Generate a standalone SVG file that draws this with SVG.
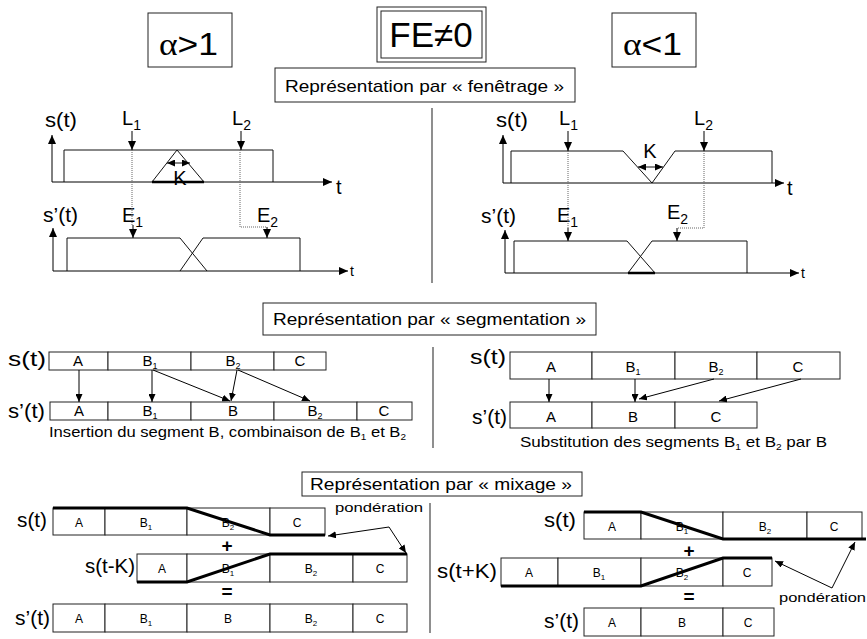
<svg xmlns="http://www.w3.org/2000/svg" width="867" height="639" viewBox="0 0 867 639">
<defs>
<marker id="ah" markerUnits="userSpaceOnUse" markerWidth="9" markerHeight="8" refX="9" refY="4" orient="auto"><path d="M0,0 L9,4 L0,8 z" fill="#000"/></marker>
<marker id="ahs" markerUnits="userSpaceOnUse" markerWidth="8" markerHeight="7" refX="8" refY="3.5" orient="auto"><path d="M0,0 L8,3.5 L0,7 z" fill="#000"/></marker>
<marker id="ahb" markerUnits="userSpaceOnUse" markerWidth="8" markerHeight="7" refX="0" refY="3.5" orient="auto"><path d="M8,0 L0,3.5 L8,7 z" fill="#000"/></marker>
</defs>
<style>
text{font-family:"Liberation Sans",Arial,sans-serif;fill:#000}
.box{fill:#fff;stroke:#222;stroke-width:1}
.ln{fill:none;stroke:#111;stroke-width:1}
.thk{fill:none;stroke:#000;stroke-width:3}
.dot{fill:none;stroke:#666;stroke-width:1;stroke-dasharray:1,1}
.div{stroke:#444;stroke-width:1.2}
.arr{fill:none;stroke:#000;stroke-width:1;marker-end:url(#ah)}
.arrs{fill:none;stroke:#000;stroke-width:1;marker-end:url(#ahs)}
.big{font-size:32px}
.alpha{font-family:"Liberation Serif","Times New Roman",serif}
.hdr{font-size:17px}
.lbl{font-size:21px}
.sl{font-size:15px}
.ml{font-size:12px}
.cap{font-size:15px}
.pond{font-size:13px}
</style>
<rect width="867" height="639" fill="#fff"/>

<g id="header-alpha-gt1"><rect class="box" x="148" y="13" width="84" height="54"/><text class="big" x="159" y="55" textLength="59" lengthAdjust="spacingAndGlyphs"><tspan class="alpha">α</tspan>&gt;1</text></g>
<g id="header-fe"><rect class="box" x="377" y="7" width="109" height="55"/><rect class="box" x="381" y="11" width="101" height="47"/><text x="431" y="47" font-size="35" text-anchor="middle">FE≠0</text></g>
<g id="header-alpha-lt1"><rect class="box" x="612" y="13" width="84" height="54"/><text class="big" x="623" y="55" textLength="59" lengthAdjust="spacingAndGlyphs"><tspan class="alpha">α</tspan>&lt;1</text></g>
<g id="title-fenetrage"><rect class="box" x="275" y="68" width="300" height="34"/><text class="hdr" x="285" y="92" textLength="279" lengthAdjust="spacingAndGlyphs">Représentation par « fenêtrage »</text></g>
<g id="title-segmentation"><rect class="box" x="263" y="303" width="333" height="32"/><text class="hdr" x="273" y="325" textLength="313" lengthAdjust="spacingAndGlyphs">Représentation par « segmentation »</text></g>
<g id="title-mixage"><rect class="box" x="302" y="472" width="280" height="24"/><text class="hdr" x="310" y="490" textLength="262" lengthAdjust="spacingAndGlyphs">Représentation par « mixage »</text></g>

<g id="dividers">
<line class="div" x1="432" y1="108" x2="432" y2="283"/>
<line class="div" x1="433" y1="347" x2="433" y2="448"/>
<line class="div" x1="430" y1="503" x2="430" y2="633"/>
</g>

<!-- Windowing left -->
<g id="win-left">
<text class="lbl" x="45" y="127" textLength="32" lengthAdjust="spacingAndGlyphs">s(t)</text>
<polyline class="ln" points="64,182 64,150 177,150 204,182"/>
<polyline class="ln" points="152,182 177,150 273,150 273,182"/>
<line x1="152" y1="182" x2="204" y2="182" stroke="#000" stroke-width="2.5"/>
<text x="180" y="185" font-size="20" text-anchor="middle">K</text>
<text x="122" y="125" font-size="20">L<tspan font-size="14" dy="5">1</tspan></text>
<text x="232" y="125" font-size="20">L<tspan font-size="14" dy="5">2</tspan></text>
<text class="lbl" x="43" y="222" textLength="35" lengthAdjust="spacingAndGlyphs">s’(t)</text>
<text x="122" y="222" font-size="20">E<tspan font-size="14" dy="5">1</tspan></text>
<text x="257" y="222" font-size="20">E<tspan font-size="14" dy="5">2</tspan></text>
<text x="336" y="194" font-size="20">t</text>
<polyline class="ln" points="67,271 67,238 180,238 207,271"/>
<polyline class="ln" points="180,271 203,238 300,238 300,271"/>
<text x="350" y="276" font-size="14">t</text>
</g>
<g id="win-left-connectors">
<line class="arr" x1="52" y1="182" x2="52" y2="135"/>
<line class="arr" x1="52" y1="182" x2="332" y2="182"/>
<line class="ln" x1="167" y1="163" x2="190" y2="163" marker-start="url(#ahb)" marker-end="url(#ahs)"/>
<line class="arr" x1="132" y1="131" x2="132" y2="150"/>
<line class="arr" x1="241" y1="131" x2="241" y2="150"/>
<line class="dot" x1="132" y1="150" x2="132" y2="226"/>
<polyline class="dot" points="240,150 240,227 267,227"/>
<line class="arr" x1="133" y1="225" x2="133" y2="238"/>
<line class="arr" x1="267" y1="227" x2="267" y2="238"/>
<line class="arr" x1="53" y1="271" x2="53" y2="228"/>
<line class="arr" x1="53" y1="271" x2="348" y2="271"/>
</g>

<!-- Windowing right -->
<g id="win-right">
<text class="lbl" x="496" y="127" textLength="32" lengthAdjust="spacingAndGlyphs">s(t)</text>
<polyline class="ln" points="511,183 511,151 623,151 652,183 675,151 772,151 772,183"/>
<text x="650" y="158" font-size="20" text-anchor="middle">K</text>
<text x="559" y="125" font-size="20">L<tspan font-size="14" dy="5">1</tspan></text>
<text x="694" y="125" font-size="20">L<tspan font-size="14" dy="5">2</tspan></text>
<text class="lbl" x="481" y="223" textLength="35" lengthAdjust="spacingAndGlyphs">s’(t)</text>
<text x="557" y="222" font-size="20">E<tspan font-size="14" dy="5">1</tspan></text>
<text x="667" y="219" font-size="20">E<tspan font-size="14" dy="5">2</tspan></text>
<text x="787" y="195" font-size="20">t</text>
<polyline class="ln" points="514,273 514,241 627,241 655,273"/>
<polyline class="ln" points="628,273 652,241 747,241 747,273"/>
<line x1="628" y1="273" x2="655" y2="273" stroke="#000" stroke-width="2.5"/>
<text x="801" y="278" font-size="14">t</text>
</g>
<g id="win-right-connectors">
<line class="arr" x1="503" y1="183" x2="503" y2="135"/>
<line class="arr" x1="503" y1="183" x2="784" y2="183"/>
<line class="ln" x1="638" y1="167" x2="663" y2="167" marker-start="url(#ahb)" marker-end="url(#ahs)"/>
<line class="arr" x1="568" y1="131" x2="568" y2="151"/>
<line class="arr" x1="704" y1="131" x2="704" y2="151"/>
<line class="dot" x1="568" y1="151" x2="568" y2="229"/>
<polyline class="dot" points="704,151 704,228 677,228"/>
<line class="arr" x1="568" y1="228" x2="568" y2="241"/>
<line class="arr" x1="677" y1="228" x2="677" y2="241"/>
<line class="arr" x1="505" y1="273" x2="505" y2="230"/>
<line class="arr" x1="505" y1="273" x2="799" y2="273"/>
</g>

<!-- Segmentation left -->
<g id="seg-left-st">
<text class="lbl" x="8" y="366" textLength="38" lengthAdjust="spacingAndGlyphs">s(t)</text>
<rect class="box" x="49" y="352" width="59" height="18"/>
<rect class="box" x="108" y="352" width="83" height="18"/>
<rect class="box" x="191" y="352" width="83" height="18"/>
<rect class="box" x="274" y="352" width="52" height="18"/>
<text class="sl" x="78" y="366" text-anchor="middle">A</text>
<text class="sl" x="150" y="366" text-anchor="middle">B<tspan font-size="9" dy="3">1</tspan></text>
<text class="sl" x="233" y="366" text-anchor="middle">B<tspan font-size="9" dy="3">2</tspan></text>
<text class="sl" x="300" y="366" text-anchor="middle">C</text>
</g>
<g id="seg-left-sp">
<text class="lbl" x="8" y="418" textLength="37" lengthAdjust="spacingAndGlyphs">s’(t)</text>
<rect class="box" x="50" y="402" width="58" height="18"/>
<rect class="box" x="108" y="402" width="83" height="18"/>
<rect class="box" x="191" y="402" width="83" height="18"/>
<rect class="box" x="274" y="402" width="83" height="18"/>
<rect class="box" x="357" y="402" width="55" height="18"/>
<text class="sl" x="79" y="416" text-anchor="middle">A</text>
<text class="sl" x="150" y="416" text-anchor="middle">B<tspan font-size="9" dy="3">1</tspan></text>
<text class="sl" x="233" y="416" text-anchor="middle">B</text>
<text class="sl" x="315" y="416" text-anchor="middle">B<tspan font-size="9" dy="3">2</tspan></text>
<text class="sl" x="384" y="416" text-anchor="middle">C</text>
<text class="cap" x="49" y="437" textLength="357" lengthAdjust="spacingAndGlyphs">Insertion du segment B, combinaison de B<tspan font-size="9" dy="3">1</tspan><tspan dy="-3"> et B</tspan><tspan font-size="9" dy="3">2</tspan></text>
</g>
<g id="seg-left-connectors">
<line class="arrs" x1="79" y1="370" x2="79" y2="402"/>
<line class="arrs" x1="152" y1="370" x2="152" y2="402"/>
<line class="arrs" x1="153" y1="370" x2="230" y2="401"/>
<line class="arrs" x1="237" y1="370" x2="231" y2="401"/>
<line class="arrs" x1="238" y1="370" x2="310" y2="401"/>
</g>

<!-- Segmentation right -->
<g id="seg-right-st">
<text class="lbl" x="470" y="364" textLength="36" lengthAdjust="spacingAndGlyphs">s(t)</text>
<rect class="box" x="510" y="352" width="82" height="27"/>
<rect class="box" x="592" y="352" width="83" height="27"/>
<rect class="box" x="675" y="352" width="82" height="27"/>
<rect class="box" x="757" y="352" width="83" height="27"/>
<text class="sl" x="551" y="372" text-anchor="middle">A</text>
<text class="sl" x="633" y="372" text-anchor="middle">B<tspan font-size="9" dy="3">1</tspan></text>
<text class="sl" x="716" y="372" text-anchor="middle">B<tspan font-size="9" dy="3">2</tspan></text>
<text class="sl" x="798" y="372" text-anchor="middle">C</text>
</g>
<g id="seg-right-sp">
<text class="lbl" x="472" y="424" textLength="35" lengthAdjust="spacingAndGlyphs">s’(t)</text>
<rect class="box" x="510" y="402" width="82" height="26"/>
<rect class="box" x="592" y="402" width="83" height="26"/>
<rect class="box" x="675" y="402" width="82" height="26"/>
<text class="sl" x="551" y="422" text-anchor="middle">A</text>
<text class="sl" x="633" y="422" text-anchor="middle">B</text>
<text class="sl" x="716" y="422" text-anchor="middle">C</text>
<text class="cap" x="520" y="447" textLength="307" lengthAdjust="spacingAndGlyphs">Substitution des segments B<tspan font-size="9" dy="3">1</tspan><tspan dy="-3"> et B</tspan><tspan font-size="9" dy="3">2</tspan><tspan dy="-3"> par B</tspan></text>
</g>
<g id="seg-right-connectors">
<line class="arrs" x1="549" y1="379" x2="549" y2="402"/>
<line class="arrs" x1="635" y1="379" x2="635" y2="402"/>
<line class="arrs" x1="714" y1="379" x2="639" y2="399"/>
<line class="arrs" x1="801" y1="379" x2="719" y2="401"/>
</g>

<!-- Mixage left -->
<g id="mix-left-st">
<text class="lbl" x="17" y="527" textLength="30" lengthAdjust="spacingAndGlyphs">s(t)</text>
<rect class="box" x="53" y="508" width="52" height="27"/>
<rect class="box" x="105" y="508" width="82" height="27"/>
<rect class="box" x="187" y="508" width="83" height="27"/>
<rect class="box" x="270" y="508" width="55" height="27"/>
<text class="ml" x="79" y="527" text-anchor="middle">A</text>
<text class="ml" x="146" y="527" text-anchor="middle">B<tspan font-size="8" dy="3">1</tspan></text>
<text class="ml" x="228" y="527" text-anchor="middle">B<tspan font-size="8" dy="3">2</tspan></text>
<text class="ml" x="297" y="527" text-anchor="middle">C</text>
<polyline class="thk" points="53,508 187,508 270,535 325,535"/>
</g>
<text x="227" y="552" font-size="19" font-weight="bold" text-anchor="middle">+</text>
<g id="mix-left-stk">
<text class="lbl" x="85" y="573" textLength="50" lengthAdjust="spacingAndGlyphs">s(t-K)</text>
<rect class="box" x="137" y="554" width="50" height="28"/>
<rect class="box" x="187" y="554" width="83" height="28"/>
<rect class="box" x="270" y="554" width="83" height="28"/>
<rect class="box" x="353" y="554" width="54" height="28"/>
<text class="ml" x="162" y="573" text-anchor="middle">A</text>
<text class="ml" x="228" y="573" text-anchor="middle">B<tspan font-size="8" dy="3">1</tspan></text>
<text class="ml" x="311" y="573" text-anchor="middle">B<tspan font-size="8" dy="3">2</tspan></text>
<text class="ml" x="380" y="573" text-anchor="middle">C</text>
<polyline class="thk" points="137,582 187,582 270,554 407,554"/>
</g>
<text x="227" y="598" font-size="19" font-weight="bold" text-anchor="middle">=</text>
<g id="mix-left-sp">
<text class="lbl" x="15" y="625" textLength="35" lengthAdjust="spacingAndGlyphs">s’(t)</text>
<rect class="box" x="53" y="604" width="52" height="28"/>
<rect class="box" x="105" y="604" width="82" height="28"/>
<rect class="box" x="187" y="604" width="83" height="28"/>
<rect class="box" x="270" y="604" width="83" height="28"/>
<rect class="box" x="353" y="604" width="54" height="28"/>
<text class="ml" x="79" y="623" text-anchor="middle">A</text>
<text class="ml" x="146" y="623" text-anchor="middle">B<tspan font-size="8" dy="3">1</tspan></text>
<text class="ml" x="228" y="623" text-anchor="middle">B</text>
<text class="ml" x="311" y="623" text-anchor="middle">B<tspan font-size="8" dy="3">2</tspan></text>
<text class="ml" x="380" y="623" text-anchor="middle">C</text>
</g>
<g id="mix-left-ponderation"><text class="pond" x="335" y="512" textLength="88" lengthAdjust="spacingAndGlyphs">pondération</text></g>
<g id="mix-left-connectors">
<line class="arrs" x1="389" y1="527" x2="328" y2="536"/>
<line class="arrs" x1="389" y1="527" x2="406" y2="553"/>
</g>

<!-- Mixage right -->
<g id="mix-right-st">
<text class="lbl" x="544" y="527" textLength="32" lengthAdjust="spacingAndGlyphs">s(t)</text>
<rect class="box" x="584" y="512" width="57" height="27"/>
<rect class="box" x="641" y="512" width="82" height="27"/>
<rect class="box" x="723" y="512" width="84" height="27"/>
<rect class="box" x="807" y="512" width="55" height="27"/>
<text class="ml" x="612" y="531" text-anchor="middle">A</text>
<text class="ml" x="682" y="531" text-anchor="middle">B<tspan font-size="8" dy="3">1</tspan></text>
<text class="ml" x="765" y="531" text-anchor="middle">B<tspan font-size="8" dy="3">2</tspan></text>
<text class="ml" x="834" y="531" text-anchor="middle">C</text>
<polyline class="thk" points="584,512 641,512 723,539 866,539"/>
</g>
<text x="689" y="557" font-size="19" font-weight="bold" text-anchor="middle">+</text>
<g id="mix-right-stk">
<text class="lbl" x="437" y="578" textLength="60" lengthAdjust="spacingAndGlyphs">s(t+K)</text>
<rect class="box" x="501" y="558" width="57" height="28"/>
<rect class="box" x="558" y="558" width="83" height="28"/>
<rect class="box" x="641" y="558" width="82" height="28"/>
<rect class="box" x="723" y="558" width="49" height="28"/>
<text class="ml" x="529" y="577" text-anchor="middle">A</text>
<text class="ml" x="599" y="577" text-anchor="middle">B<tspan font-size="8" dy="3">1</tspan></text>
<text class="ml" x="682" y="577" text-anchor="middle">B<tspan font-size="8" dy="3">2</tspan></text>
<text class="ml" x="747" y="577" text-anchor="middle">C</text>
<polyline class="thk" points="501,586 641,586 723,558 772,558"/>
</g>
<text x="689" y="603" font-size="19" font-weight="bold" text-anchor="middle">=</text>
<g id="mix-right-sp">
<text class="lbl" x="544" y="628" textLength="35" lengthAdjust="spacingAndGlyphs">s’(t)</text>
<rect class="box" x="584" y="608" width="57" height="28"/>
<rect class="box" x="641" y="608" width="82" height="28"/>
<rect class="box" x="723" y="608" width="51" height="28"/>
<text class="ml" x="612" y="627" text-anchor="middle">A</text>
<text class="ml" x="682" y="627" text-anchor="middle">B</text>
<text class="ml" x="748" y="627" text-anchor="middle">C</text>
</g>
<g id="mix-right-ponderation"><text class="pond" x="779" y="602" textLength="87" lengthAdjust="spacingAndGlyphs">pondération</text></g>
<g id="mix-right-connectors">
<line class="arrs" x1="832" y1="588" x2="775" y2="561"/>
<line class="arrs" x1="832" y1="588" x2="855" y2="542"/>
</g>
</svg>
